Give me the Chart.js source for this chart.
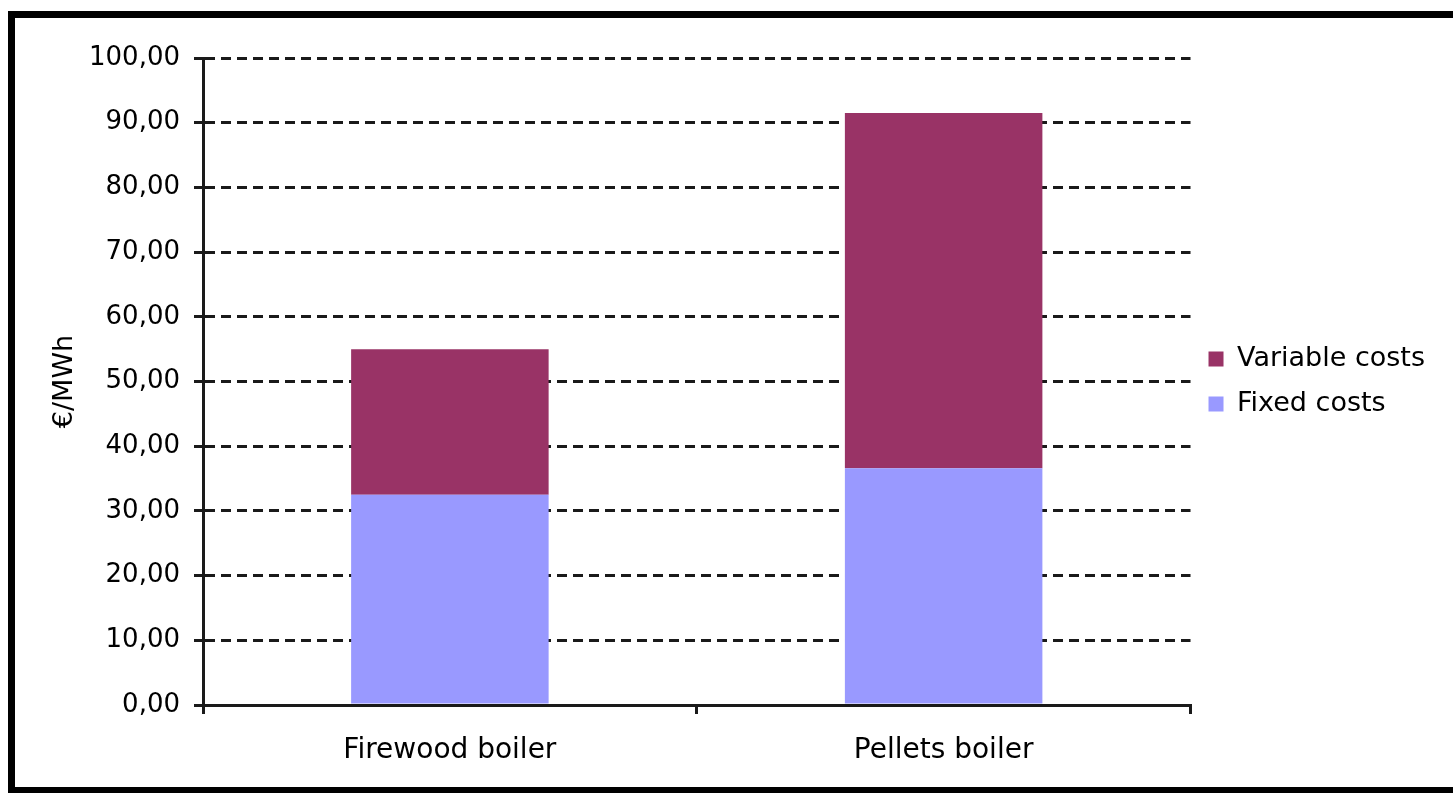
<!DOCTYPE html>
<html>
<head>
<meta charset="utf-8">
<script src="https://cdn.jsdelivr.net/npm/chart.js@4/dist/chart.umd.min.js"></script>
<style>
  html, body { margin: 0; padding: 0; background: #fff; overflow: hidden; }
  #wrap { width: 1453px; height: 793px; }
</style>
</head>
<body>
<div id="wrap"><canvas id="c" width="1453" height="793"></canvas></div>
<script>
// Heating cost comparison, €/MWh
const categories = ['Firewood boiler', 'Pellets boiler'];
const fixedCosts = [32.5, 36.6];
const variableCosts = [22.5, 54.9];
const seriesNames = ['Fixed costs', 'Variable costs'];
const seriesColors = ['#9999FF', '#993366'];
const yMin = 0, yMax = 100, yStep = 10;

const FONT = "'DejaVu Sans', Verdana, sans-serif";
const INK = '#000';
const LINE = '#1a1a1a';

// white background and the black frame (top, left, bottom edges)
const framePlugin = {
  id: 'frame',
  beforeDraw(chart) {
    const ctx = chart.ctx;
    ctx.save();
    ctx.fillStyle = '#fff';
    ctx.fillRect(0, 0, chart.width, chart.height);
    ctx.restore();
  },
  afterDraw(chart) {
    const ctx = chart.ctx;
    ctx.save();
    ctx.fillStyle = '#000';
    ctx.fillRect(8, 11, chart.width - 8, 7);   // top
    ctx.fillRect(8, 11, 7, chart.height - 11); // left
    ctx.fillRect(8, 787, chart.width - 8, 6);  // bottom
    ctx.restore();
  }
};

new Chart(document.getElementById('c'), {
  type: 'bar',
  data: {
    labels: categories,
    datasets: [
      { label: seriesNames[0], data: fixedCosts, backgroundColor: seriesColors[0], borderWidth: 0 },
      { label: seriesNames[1], data: variableCosts, backgroundColor: seriesColors[1], borderWidth: 0 }
    ]
  },
  options: {
    responsive: false,
    devicePixelRatio: 1,
    animation: false,
    datasets: { bar: { categoryPercentage: 1.0, barPercentage: 0.4 } },
    layout: { padding: { left: 22, top: 58, right: 18, bottom: 10 } },
    plugins: {
      legend: {
        position: 'right',
        fullSize: false,
        reverse: true,
        labels: {
          boxWidth: 15, boxHeight: 15, padding: 18,
          color: INK, font: { family: FONT, size: 27 }
        }
      },
      tooltip: { enabled: false }
    },
    scales: {
      x: {
        stacked: true,
        grid: { display: true, drawOnChartArea: false, drawTicks: true, offset: true,
                tickLength: 9, color: LINE, lineWidth: 3 },
        border: { display: true, color: LINE, width: 3 },
        ticks: { color: INK, font: { family: FONT, size: 28 }, padding: 20 },
        afterFit(scale) { scale.height = 78; }
      },
      y: {
        stacked: true,
        min: yMin, max: yMax,
        ticks: {
          stepSize: yStep, color: INK, padding: 14,
          font: { family: FONT, size: 26 },
          callback: v => v.toFixed(2).replace('.', ',')
        },
        grid: { color: LINE, lineWidth: 3, tickLength: 9, tickBorderDash: [] },
        border: { display: true, color: LINE, width: 3, dash: [10, 6] },
        title: { display: true, text: '€/MWh', color: INK, font: { family: FONT, size: 27 },
                 padding: { top: 27, bottom: 0 } },
        afterFit(scale) { scale.width = 203 - 22; }
      }
    }
  },
  plugins: [framePlugin]
});
</script>
</body>
</html>
